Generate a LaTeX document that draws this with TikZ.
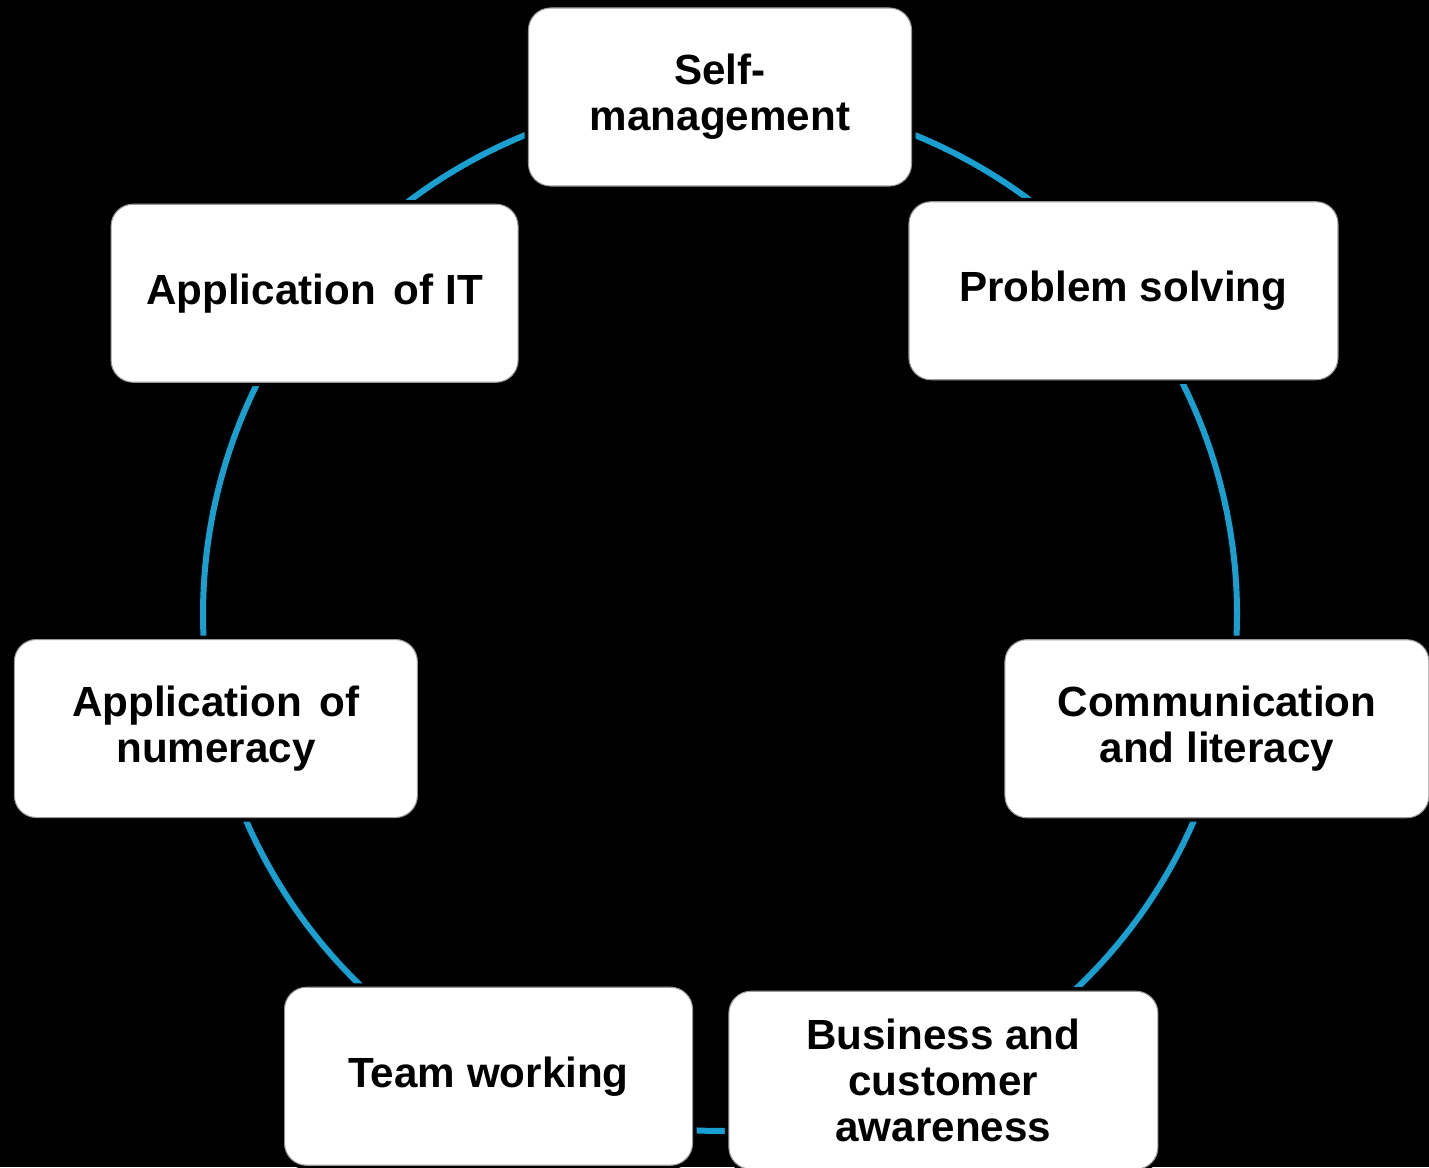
\documentclass[tikz,border=0pt]{standalone}
\usepackage{fontspec}
\setmainfont{Liberation Sans}
\usetikzlibrary{calc,backgrounds}

\definecolor{ringblue}{RGB}{26,160,208}

\tikzset{
  skill/.style={rectangle, rounded corners=0.44cm, fill=white, draw=black!40, line width=0.6pt,
    preaction={draw=black, line width=0.16cm},
    minimum height=3.56cm, align=center, font=\fontsize{24}{26}\selectfont\bfseries},
  ring/.style={draw=ringblue, line width=0.12cm}
}

\begin{document}
\begin{tikzpicture}
            \useasboundingbox (0,0) rectangle (28.58,23.34);
            \coordinate (c) at (14.40,11.06);

            \node[skill, minimum width=7.66cm] (self) at ($(c) + (90:10.34)$) {Self-\\management};
            \node[skill, minimum width=8.14cm] (appit) at ($(c) + (141.65:10.34)$) {Application\hspace{0.15em} of IT};
            \node[skill, minimum width=8.06cm] (numeracy) at ($(c) + (192.8:10.34)$) {Application\hspace{0.15em} of\\numeracy};
            \node[skill, minimum width=8.16cm] (team) at ($(c) + (243.4:10.34)$) {Team working};
            \node[skill, minimum width=8.58cm] (business) at ($(c) + (295.6:10.34)$) {Business and\\customer\\awareness};
            \node[skill, minimum width=8.48cm] (comm) at ($(c) + (347:10.2)$) {Communication\\and literacy};
            \node[skill, minimum width=8.58cm] (problem) at ($(c) + (38.7:10.34)$) {Problem solving};

            % ring behind the boxes
            \begin{scope}[on background layer]
                \fill[black] (0,0) rectangle (28.58,23.34);
                \draw[ring] (self.center) arc[start angle=90, end angle=141.65, radius=10.34cm];
                \draw[ring] (appit.center) arc[start angle=141.65, end angle=192.8, radius=10.34cm];
                \draw[ring] (numeracy.center) arc[start angle=192.8, end angle=243.4, radius=10.34cm];
                \draw[ring] (team.center) arc[start angle=243.4, end angle=295.6, radius=10.34cm];
                \draw[ring] (business.center) arc[start angle=295.6, end angle=347, radius=10.34cm];
                \draw[ring] (problem.center) arc[start angle=38.7, end angle=-13, radius=10.34cm];
                \draw[ring] (problem.center) arc[start angle=38.7, end angle=90, radius=10.34cm];
            \end{scope}
        \end{tikzpicture}
\end{document}
